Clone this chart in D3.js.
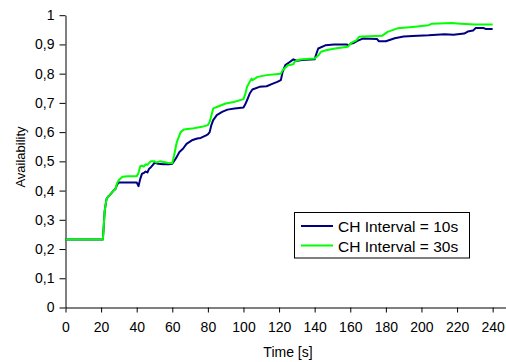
<!DOCTYPE html>
<html><head><meta charset="utf-8">
<script src="https://cdn.jsdelivr.net/npm/d3@7"></script>
<style>body{margin:0;background:#fff}svg{display:block;font-family:Arial,"Liberation Sans",sans-serif}</style>
</head><body><svg id="c" width="506" height="362"></svg>
<script>
const seriesNames = ["CH Interval = 10s", "CH Interval = 30s"];
const seriesColors = ["#000080", "#00ff00"];
const xTicks = [0,20,40,60,80,100,120,140,160,180,200,220,240];
const yTicks = [0,0.1,0.2,0.3,0.4,0.5,0.6,0.7,0.8,0.9,1];

const time10 = [0,21,21.5,22,23,24,25,27,28,29,30,35,40,41,42,43,44,45,46,47,48,49,50,52,55,58,60,62,64,66,68,71,74,76,79,80,81,82,83,85,88,91,95,100,101,102,103.5,105,109,113,116.5,119,121,122,123.5,126,128,130,133,140,141,142,146,151,158,159,160,162,164,167,175,176,180,185,190,195,204,213,218,224,226,229,230.5,235,236,240];
const avail10 = [0.233,0.233,0.28,0.33,0.37,0.38,0.385,0.40,0.405,0.42,0.428,0.428,0.428,0.415,0.44,0.458,0.46,0.465,0.462,0.475,0.48,0.487,0.495,0.492,0.49,0.49,0.492,0.51,0.532,0.543,0.56,0.572,0.578,0.58,0.589,0.592,0.60,0.625,0.641,0.658,0.669,0.677,0.681,0.684,0.695,0.709,0.732,0.746,0.755,0.757,0.766,0.772,0.778,0.806,0.829,0.84,0.849,0.844,0.847,0.849,0.869,0.886,0.897,0.90,0.90,0.896,0.902,0.905,0.912,0.92,0.919,0.911,0.911,0.921,0.927,0.929,0.931,0.935,0.933,0.937,0.944,0.948,0.956,0.956,0.953,0.953];

const time30 = [0,21,21.5,22,23,24,25,27,28,29,30,32,35,40,41,42,43,44,45,46,47,48,50,51,53,56,58,60,61,62,62.6,64.7,66.5,71,76.6,80,81,82,83,85,90,94.6,100,101,102,104.5,105,108,113,121,122,125,128,128.7,130,133,140,142,143.6,146.4,151.5,158.6,160.5,163.4,165,167,178,181,186.5,195,204,206,217,222,230,240];
const avail30 = [0.233,0.233,0.28,0.33,0.37,0.38,0.385,0.40,0.405,0.425,0.436,0.447,0.449,0.449,0.46,0.483,0.485,0.482,0.49,0.488,0.495,0.50,0.50,0.496,0.50,0.497,0.494,0.494,0.52,0.55,0.567,0.60,0.609,0.612,0.618,0.624,0.635,0.658,0.681,0.686,0.698,0.703,0.713,0.73,0.755,0.783,0.778,0.789,0.795,0.80,0.812,0.829,0.832,0.84,0.846,0.849,0.852,0.862,0.875,0.88,0.886,0.892,0.905,0.914,0.926,0.927,0.93,0.943,0.955,0.96,0.966,0.971,0.973,0.971,0.968,0.968];

const svg = d3.select("#c");
const x = d3.scaleLinear().domain([0, 247.5]).range([65.5, 506]);
const y = d3.scaleLinear().domain([0, 1]).range([307.5, 15.2]);
const fmt = d => String(+d.toFixed(1)).replace(".", ",");

const xAxis = svg.append("g").attr("transform", "translate(0,307.5)")
  .call(d3.axisBottom(x).tickValues(xTicks).tickSize(5).tickPadding(10).tickSizeOuter(0));
const yAxis = svg.append("g").attr("transform", "translate(65.5,0)")
  .call(d3.axisLeft(y).tickValues(yTicks).tickSize(6).tickPadding(5).tickFormat(fmt).tickSizeOuter(0));
[xAxis, yAxis].forEach(g => {
  g.selectAll("path,line").attr("stroke", "#000");
  g.selectAll("text").attr("fill", "#000").style("font-size", "14px").style("font-family", "Arial, 'Liberation Sans', sans-serif");
});

const line = d3.line().x(d => x(d[0])).y(d => y(d[1]));
const data = [d3.zip(time10, avail10), d3.zip(time30, avail30)];
svg.append("g").selectAll("path").data(data).join("path")
  .attr("d", line).attr("fill", "none")
  .attr("stroke", (d, i) => seriesColors[i]).attr("stroke-width", 2)
  .attr("stroke-linejoin", "round");

svg.append("text").attr("x", 288).attr("y", 357).attr("text-anchor", "middle")
  .style("font-size", "14px").text("Time [s]");
svg.append("text").attr("transform", "translate(25,157) rotate(-90)").attr("text-anchor", "middle")
  .style("font-size", "13px").text("Availability");

const lg = svg.append("g");
lg.append("rect").attr("x", 294.5).attr("y", 212.5).attr("width", 175).attr("height", 45.5)
  .attr("fill", "#fff").attr("stroke", "#000").attr("stroke-width", 1);
seriesNames.forEach((n, i) => {
  const yy = 226 + i * 19.5;
  lg.append("line").attr("x1", 301).attr("x2", 333).attr("y1", yy).attr("y2", yy)
    .attr("stroke", seriesColors[i]).attr("stroke-width", 2);
  lg.append("text").attr("x", 338).attr("y", yy + 6).style("font-size", "15.5px").text(n);
});
</script></body></html>
